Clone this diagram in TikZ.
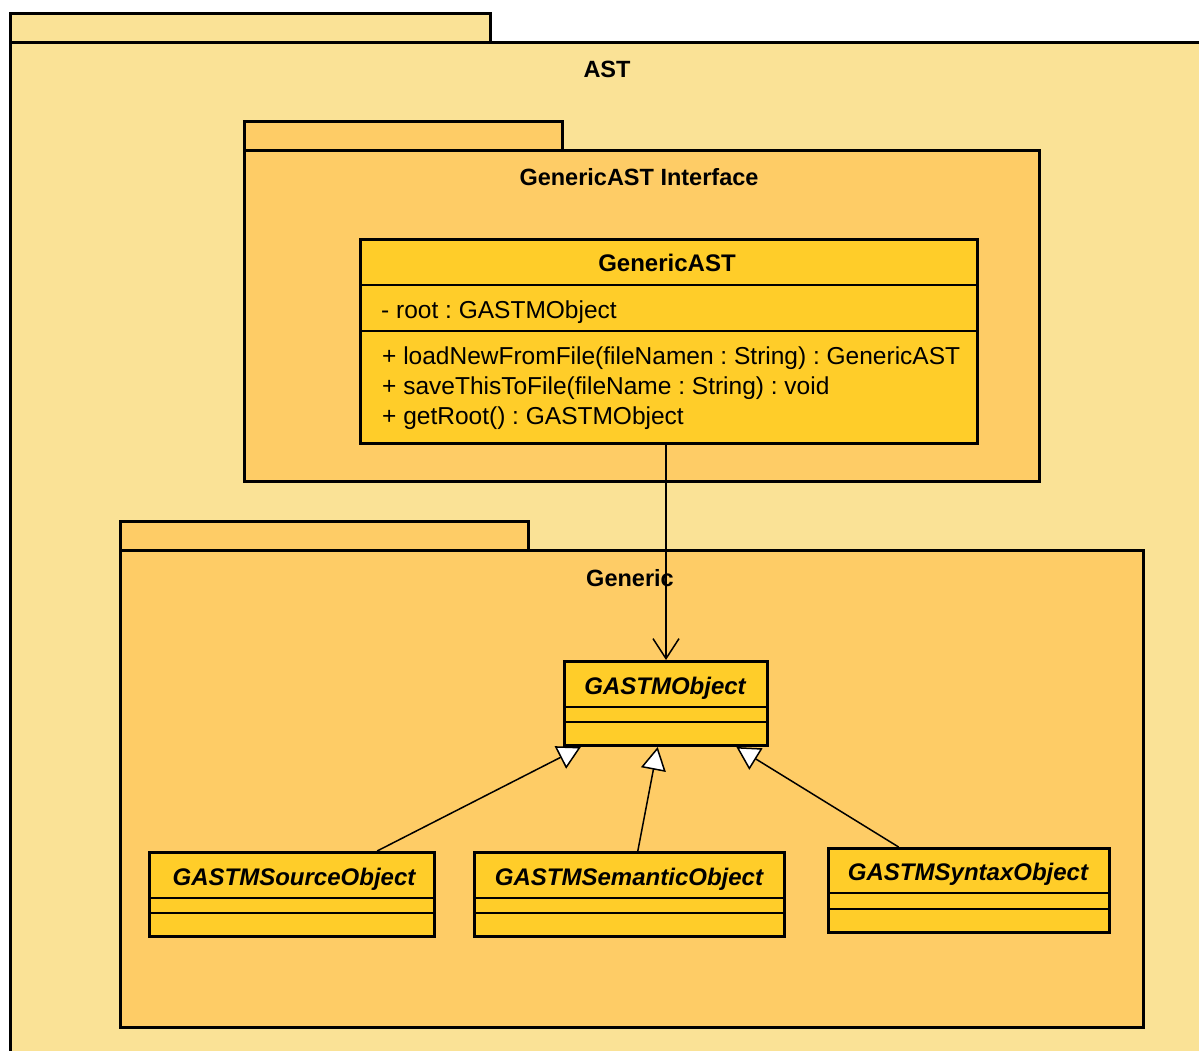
\documentclass[tikz,border=0pt]{standalone}
\usepackage{fontspec}
\setmainfont{Liberation Sans}
\usetikzlibrary{arrows.meta}
\frenchspacing

\definecolor{astfill}{RGB}{250,226,150}
\definecolor{pkgfill}{RGB}{254,204,102}
\definecolor{clsfill}{RGB}{255,205,41}

\tikzset{
  pkgbox/.style={draw=black, line width=3pt, rectangle, inner sep=0pt, anchor=north west},
  clsbox/.style={draw=black, line width=3pt, fill=clsfill, rectangle, inner sep=0pt, anchor=north west},
  sepline/.style={draw=black, line width=1.5pt},
  txt/.style={inner sep=0pt, text height=17.4pt, text depth=0pt,
              font=\fontsize{24}{30}\selectfont},
  ptitle/.style={txt, font=\fontsize{23.5}{30}\selectfont\bfseries},
  ctitle/.style={txt, font=\fontsize{24}{30}\selectfont\bfseries},
  atitle/.style={txt, font=\fontsize{24}{30}\selectfont\bfseries\itshape},
  member/.style={txt, anchor=west, font=\fontsize{24.5}{30}\selectfont},
  assoc/.style={draw=black, line width=1.5pt, -{Straight Barb[length=20pt, width=26pt, line width=1.5pt]}},
  gen/.style={draw=black, line width=1.5pt, -{Triangle[length=23pt, width=25pt, fill=white, line width=1.5pt]}},
}

\begin{document}
\begin{tikzpicture}[x=1pt, y=-1pt]
  \useasboundingbox (0,0) rectangle (1199,1051);
  \fill[white] (0,0) rectangle (1199,1051);
  \clip (0,0) rectangle (1199,1051);

  % outer package AST
  \node[pkgbox, fill=astfill, minimum width=480pt, minimum height=29pt] (astTab) at (9,12) {};
  \node[pkgbox, fill=astfill, minimum width=1197pt, minimum height=1040pt] (astBody) at (9,41) {};
  \node[ptitle] (astName) at (607,69) {AST};

  % package GenericAST Interface
  \node[pkgbox, fill=pkgfill, minimum width=318pt, minimum height=29pt] (ifTab) at (243,120) {};
  \node[pkgbox, fill=pkgfill, minimum width=795pt, minimum height=331pt] (ifBody) at (243,149) {};
  \node[ptitle] (ifName) at (639,177) {GenericAST Interface};

  % package Generic
  \node[pkgbox, fill=pkgfill, minimum width=408pt, minimum height=29pt] (genTab) at (119,520) {};
  \node[pkgbox, fill=pkgfill, minimum width=1023pt, minimum height=477pt] (genBody) at (119,549) {};
  \node[ptitle] (genName) at (630,578) {Generic};

  % class GenericAST
  \node[clsbox, minimum width=617pt, minimum height=204pt] (GenericAST) at (359,238) {};
  \draw[sepline] (359,285) -- (976,285);
  \draw[sepline] (359,331) -- (976,331);
  \node[ctitle] (gaName) at (667,263) {GenericAST};
  \node[member] (gaAttr) at (381,310) {- root : GASTMObject};
  \node[member] (gaOp1) at (382,356) {+ loadNewFromFile(fileNamen : String) : GenericAST};
  \node[member] (gaOp2) at (382,386) {+ saveThisToFile(fileName : String) : void};
  \node[member] (gaOp3) at (382,416) {+ getRoot() : GASTMObject};

  % abstract class GASTMObject
  \node[clsbox, minimum width=203pt, minimum height=84pt] (GASTMObject) at (563,660) {};
  \draw[sepline] (563,707) -- (766,707);
  \draw[sepline] (563,722) -- (766,722);
  \node[atitle] (goName) at (665,686) {GASTMObject};

  % subclasses
  \node[clsbox, minimum width=285pt, minimum height=84pt] (Source) at (148,851) {};
  \draw[sepline] (148,898) -- (433,898);
  \draw[sepline] (148,913) -- (433,913);
  \node[atitle] (soName) at (294,877) {GASTMSourceObject};

  \node[clsbox, minimum width=310pt, minimum height=84pt] (Semantic) at (473,851) {};
  \draw[sepline] (473,898) -- (783,898);
  \draw[sepline] (473,913) -- (783,913);
  \node[atitle] (seName) at (629,877) {GASTMSemanticObject};

  \node[clsbox, minimum width=281pt, minimum height=84pt] (Syntax) at (827,847) {};
  \draw[sepline] (827,893) -- (1108,893);
  \draw[sepline] (827,909) -- (1108,909);
  \node[atitle] (syName) at (968,872) {GASTMSyntaxObject};

  % association GenericAST -> GASTMObject
  \draw[assoc] (GASTMObject.north |- GenericAST.south) -- (GASTMObject.north);

  % generalizations
  \draw[gen] (Source) -- (GASTMObject);
  \draw[gen] (Semantic) -- (GASTMObject);
  \draw[gen] (Syntax) -- (GASTMObject);
\end{tikzpicture}
\end{document}
